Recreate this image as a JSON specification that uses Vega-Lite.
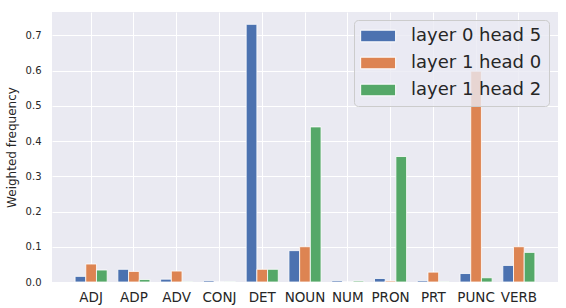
{
  "$schema": "https://vega.github.io/schema/vega-lite/v6.json",
  "autosize": "none",
  "padding": {"left": 52, "top": 12, "right": 8, "bottom": 26},
  "width": 506,
  "height": 270,
  "background": "white",
  "data": {
    "values": [
      {"pos": "ADJ", "series": "layer 0 head 5", "value": 0.016},
      {"pos": "ADJ", "series": "layer 1 head 0", "value": 0.051},
      {"pos": "ADJ", "series": "layer 1 head 2", "value": 0.034},
      {"pos": "ADP", "series": "layer 0 head 5", "value": 0.036},
      {"pos": "ADP", "series": "layer 1 head 0", "value": 0.030},
      {"pos": "ADP", "series": "layer 1 head 2", "value": 0.007},
      {"pos": "ADV", "series": "layer 0 head 5", "value": 0.008},
      {"pos": "ADV", "series": "layer 1 head 0", "value": 0.031},
      {"pos": "ADV", "series": "layer 1 head 2", "value": 0.001},
      {"pos": "CONJ", "series": "layer 0 head 5", "value": 0.004},
      {"pos": "CONJ", "series": "layer 1 head 0", "value": 0.0},
      {"pos": "CONJ", "series": "layer 1 head 2", "value": 0.001},
      {"pos": "DET", "series": "layer 0 head 5", "value": 0.731},
      {"pos": "DET", "series": "layer 1 head 0", "value": 0.036},
      {"pos": "DET", "series": "layer 1 head 2", "value": 0.036},
      {"pos": "NOUN", "series": "layer 0 head 5", "value": 0.089},
      {"pos": "NOUN", "series": "layer 1 head 0", "value": 0.100},
      {"pos": "NOUN", "series": "layer 1 head 2", "value": 0.440},
      {"pos": "NUM", "series": "layer 0 head 5", "value": 0.004},
      {"pos": "NUM", "series": "layer 1 head 0", "value": 0.0},
      {"pos": "NUM", "series": "layer 1 head 2", "value": 0.003},
      {"pos": "PRON", "series": "layer 0 head 5", "value": 0.010},
      {"pos": "PRON", "series": "layer 1 head 0", "value": 0.003},
      {"pos": "PRON", "series": "layer 1 head 2", "value": 0.356},
      {"pos": "PRT", "series": "layer 0 head 5", "value": 0.004},
      {"pos": "PRT", "series": "layer 1 head 0", "value": 0.028},
      {"pos": "PRT", "series": "layer 1 head 2", "value": 0.001},
      {"pos": "PUNC", "series": "layer 0 head 5", "value": 0.024},
      {"pos": "PUNC", "series": "layer 1 head 0", "value": 0.598},
      {"pos": "PUNC", "series": "layer 1 head 2", "value": 0.012},
      {"pos": "VERB", "series": "layer 0 head 5", "value": 0.047},
      {"pos": "VERB", "series": "layer 1 head 0", "value": 0.100},
      {"pos": "VERB", "series": "layer 1 head 2", "value": 0.084}
    ]
  },
  "mark": {"type": "bar", "stroke": "white", "strokeWidth": 0.8},
  "encoding": {
    "x": {
      "field": "pos",
      "type": "nominal",
      "sort": null,
      "scale": {"paddingInner": 0.25, "paddingOuter": 0.54},
      "axis": {
        "title": null,
        "labelAngle": 0,
        "labelFontSize": 13.5,
        "labelPadding": 8,
        "bandPosition": 0.5,
        "ticks": false,
        "domain": false
      }
    },
    "xOffset": {"field": "series", "type": "nominal", "scale": {"paddingInner": 0, "paddingOuter": 0}},
    "y": {
      "field": "value",
      "type": "quantitative",
      "scale": {"domain": [0, 0.766], "nice": false},
      "axis": {
        "title": "Weighted frequency",
        "values": [0, 0.1, 0.2, 0.3, 0.4, 0.5, 0.6, 0.7],
        "format": ".1f",
        "labelFontSize": 10,
        "labelPadding": 11,
        "titleFontSize": 12,
        "titlePadding": 7,
        "ticks": false,
        "domain": false
      }
    },
    "color": {
      "field": "series",
      "type": "nominal",
      "scale": {"range": ["#4C72B0", "#DD8452", "#55A868"]},
      "legend": {
        "title": null,
        "orient": "none",
        "legendX": 302,
        "legendY": 8,
        "labelFontSize": 18,
        "labelOffset": 32,
        "symbolType": "M-1.6,-1H4.4V1H-1.6Z",
        "symbolSize": 136,
        "symbolStrokeColor": "white",
        "symbolStrokeWidth": 1,
        "symbolOpacity": 1,
        "padding": 7,
        "rowPadding": 9,
        "fillColor": "rgba(234,234,242,0.8)",
        "strokeColor": "#cccccc",
        "cornerRadius": 4
      }
    }
  },
  "config": {
    "font": "DejaVu Sans",
    "view": {"fill": "#EAEAF2", "stroke": null},
    "axis": {
      "grid": true,
      "gridColor": "white",
      "gridWidth": 1,
      "gridOpacity": 1,
      "labelColor": "#262626",
      "titleColor": "#262626",
      "titleFontWeight": "normal",
      "labelFont": "DejaVu Sans",
      "titleFont": "DejaVu Sans"
    },
    "legend": {"labelColor": "#262626", "labelFont": "DejaVu Sans"}
  }
}
